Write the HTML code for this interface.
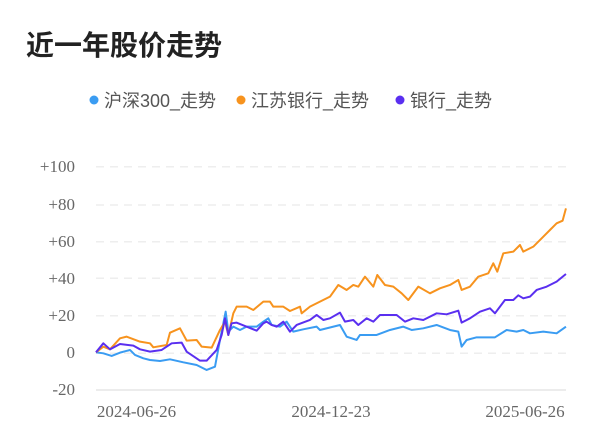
<!DOCTYPE html>
<html><head><meta charset="utf-8"><style>
body{margin:0;background:#fff;width:600px;height:446px;overflow:hidden;font-family:"Liberation Sans","Noto Sans CJK SC",sans-serif}
</style></head><body>
<svg width="600" height="446" xmlns="http://www.w3.org/2000/svg" style="position:absolute;left:0;top:0">
<text x="26" y="55" font-size="28" font-weight="bold" fill="#222" font-family="Liberation Sans,Noto Sans CJK SC,sans-serif">近一年股价走势</text>
<g font-size="18" fill="#555" font-family="Liberation Sans,Noto Sans CJK SC,sans-serif">
<circle cx="94" cy="100" r="4.5" fill="#3a9cf2"/><text x="104" y="107">沪深300_走势</text>
<circle cx="241" cy="100" r="4.5" fill="#f7931e"/><text x="251" y="107">江苏银行_走势</text>
<circle cx="400" cy="100" r="4.5" fill="#5a2ff0"/><text x="410" y="107">银行_走势</text>
</g>
<g stroke="#eee" stroke-width="1.5" stroke-dasharray="8,6">
<line x1="96" x2="566" y1="166.7" y2="166.7"/><line x1="96" x2="566" y1="205" y2="205"/>
<line x1="96" x2="566" y1="241.7" y2="241.7"/><line x1="96" x2="566" y1="278.3" y2="278.3"/>
<line x1="96" x2="566" y1="315.7" y2="315.7"/><line x1="96" x2="566" y1="353.3" y2="353.3"/>
</g>
<line x1="96" x2="566" y1="390" y2="390" stroke="#e6e6e6" stroke-width="1.5"/>
<g font-size="17" fill="#666" text-anchor="end" font-family="Liberation Serif,serif">
<text x="75" y="172">+100</text><text x="75" y="210">+80</text><text x="75" y="247">+60</text>
<text x="75" y="284">+40</text><text x="75" y="321">+20</text><text x="75" y="358">0</text><text x="75" y="395">-20</text>
</g>
<g font-size="17" fill="#666" text-anchor="middle" font-family="Liberation Serif,serif">
<text x="136.5" y="417">2024-06-26</text><text x="331" y="417">2024-12-23</text><text x="525" y="417">2025-06-26</text>
</g>
<g transform="translate(90,150) scale(0.3333)" fill="none" stroke-width="6" stroke-linejoin="round">
<polyline stroke="#3a9cf2" points="18,607 40,610 65,618 90,608 120,600 135,615 160,625 180,630 210,633 240,628 280,637 320,645 350,660 375,650 390,570 407,485 415,545 430,530 450,540 470,530 500,530 520,515 535,505 545,525 570,530 590,515 610,545 640,538 680,530 690,540 750,525 770,560 800,570 810,555 860,555 900,540 940,530 965,540 1000,535 1040,525 1080,540 1105,545 1115,590 1130,570 1160,562 1215,562 1250,540 1280,545 1300,540 1320,550 1360,545 1400,550 1428,530"/>
<polyline stroke="#f7931e" points="18,607 40,590 60,598 90,565 110,560 150,575 180,580 190,592 230,585 240,548 270,535 290,572 320,570 335,590 365,593 390,540 405,515 415,555 430,490 440,470 470,470 490,480 520,455 540,455 550,470 580,470 600,483 630,470 635,490 660,470 690,455 720,440 745,405 770,420 790,405 805,410 825,380 850,410 862,375 885,405 910,410 935,430 955,450 985,410 1020,430 1050,415 1080,405 1105,390 1115,420 1140,410 1165,380 1195,370 1210,340 1222,365 1240,310 1270,305 1290,285 1300,305 1330,290 1360,260 1380,240 1400,220 1418,212 1428,175"/>
<polyline stroke="#5a2ff0" points="18,607 40,580 60,598 90,582 130,587 150,598 180,605 215,600 245,580 275,578 290,605 330,632 350,632 380,600 395,555 405,505 415,555 425,520 440,518 470,530 500,542 520,520 530,515 545,525 560,530 580,515 600,545 620,525 660,510 680,495 700,510 720,505 750,488 765,515 790,510 805,525 830,505 850,515 870,495 920,495 945,515 970,505 1000,510 1040,490 1070,493 1105,482 1115,518 1140,505 1170,485 1200,475 1215,490 1245,450 1270,450 1285,436 1300,445 1320,440 1340,420 1370,410 1400,395 1428,372"/>
</g>
</svg>
</body></html>
